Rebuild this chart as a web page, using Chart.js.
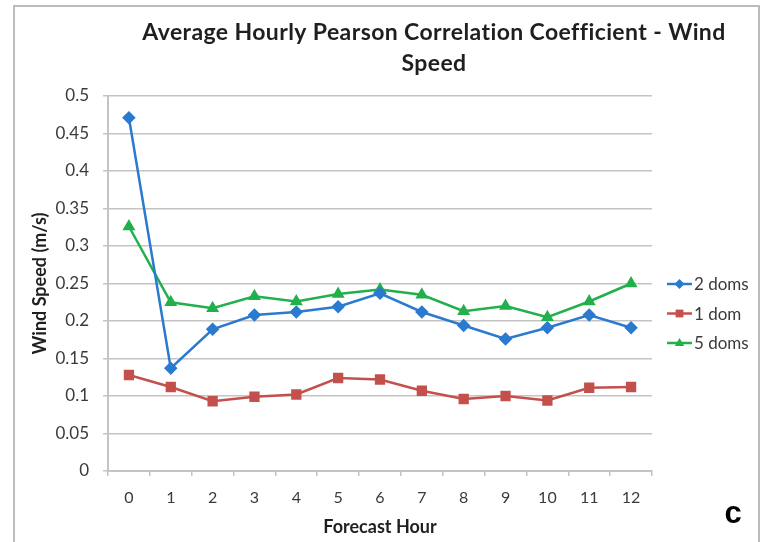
<!DOCTYPE html>
<html>
<head>
<meta charset="utf-8">
<script src="https://cdn.jsdelivr.net/npm/chart.js@4/dist/chart.umd.min.js"></script>
<style>
  html, body { margin: 0; padding: 0; background: #fff; overflow: hidden; }
  #frame { position: absolute; left: 13px; top: 5px; width: 747px; height: 600px;
           border: 2px solid #bcbcbc; box-sizing: border-box; }
  #chart { position: absolute; left: 0; top: 0; }
</style>
</head>
<body>
<div id="frame"></div>
<canvas id="chart" width="767" height="542"></canvas>
<script>
// data
const hours = ['0', '1', '2', '3', '4', '5', '6', '7', '8', '9', '10', '11', '12'];
const twoDoms = [0.471, 0.137, 0.189, 0.208, 0.212, 0.219, 0.237, 0.212, 0.194, 0.176, 0.191, 0.208, 0.191];
const oneDom = [0.128, 0.112, 0.093, 0.099, 0.102, 0.124, 0.122, 0.107, 0.096, 0.100, 0.094, 0.111, 0.112];
const fiveDoms = [0.326, 0.225, 0.217, 0.233, 0.226, 0.236, 0.242, 0.235, 0.213, 0.220, 0.205, 0.226, 0.250];
const titleLines = ['Average Hourly Pearson Correlation Coefficient - Wind', 'Speed'];

const gridColor = '#c4c4c4';
const textColor = '#3a3a3a';

function marker(ctx, style, r, x, y) {
    ctx.beginPath();
    if (style === 'rectRot') {
        ctx.moveTo(x, y - r); ctx.lineTo(x + r, y); ctx.lineTo(x, y + r); ctx.lineTo(x - r, y);
    } else if (style === 'rect') {
        const h = r / Math.SQRT2;
        ctx.rect(x - h, y - h, 2 * h, 2 * h);
    } else {
        ctx.moveTo(x, y - r); ctx.lineTo(x + r * 0.95, y + r * 0.6); ctx.lineTo(x - r * 0.95, y + r * 0.6);
    }
    ctx.closePath();
    ctx.fill();
}

// title, side legend and the panel letter
const decorations = {
    id: 'decorations',
    afterDraw(chart) {
        const ctx = chart.ctx;
        ctx.save();
        ctx.fillStyle = '#1f1f1f';
        ctx.font = 'bold 23px Lato';
        ctx.letterSpacing = '0.4px';
        ctx.textAlign = 'center';
        ctx.textBaseline = 'middle';
        ctx.fillText(titleLines[0], 434, 33);
        ctx.fillText(titleLines[1], 434, 64);
        ctx.letterSpacing = '0px';

        chart.data.datasets.forEach((ds, i) => {
            const y = 284 + i * 29.5;
            ctx.strokeStyle = ds.borderColor;
            ctx.fillStyle = ds.borderColor;
            ctx.lineWidth = 2.5;
            ctx.beginPath();
            ctx.moveTo(667, y);
            ctx.lineTo(692, y);
            ctx.stroke();
            marker(ctx, ds.pointStyle, ds.pointRadius, 679.5, y);
            ctx.fillStyle = textColor;
            ctx.font = '17px Lato';
            ctx.textAlign = 'left';
            ctx.fillText(ds.label, 694, y + 1);
        });

        ctx.fillStyle = '#000';
        ctx.font = 'bold 31px "Liberation Sans"';
        ctx.textAlign = 'center';
        ctx.textBaseline = 'alphabetic';
        ctx.fillText('c', 733, 523);
        ctx.restore();
    }
};

new Chart(document.getElementById('chart').getContext('2d'), {
    type: 'line',
    data: {
        labels: hours,
        datasets: [
            { label: '2 doms', data: twoDoms, borderColor: '#2a7ad0', backgroundColor: '#2a7ad0',
              pointStyle: 'rectRot', pointRadius: 5, borderWidth: 2.5 },
            { label: '1 dom', data: oneDom, borderColor: '#c4504d', backgroundColor: '#c4504d',
              pointStyle: 'rect', pointRadius: 5.5, borderWidth: 2.5 },
            { label: '5 doms', data: fiveDoms, borderColor: '#21b04b', backgroundColor: '#21b04b',
              pointStyle: 'triangle', pointRadius: 5, borderWidth: 2.5 }
        ]
    },
    options: {
        responsive: false,
        animation: false,
        layout: { padding: { top: 96, right: 115, left: 0, bottom: 0 } },
        elements: { line: { tension: 0 }, point: { borderWidth: 1 } },
        plugins: {
            legend: { display: false },
            tooltip: { enabled: false }
        },
        scales: {
            x: {
                offset: true,
                grid: { offset: true, drawOnChartArea: false, drawTicks: true, tickLength: 5,
                        color: gridColor, lineWidth: 1.5 },
                border: { color: gridColor, width: 2 },
                ticks: { color: textColor, font: { family: 'Lato', size: 16 }, padding: 12 },
                title: { display: true, text: 'Forecast Hour', color: '#1f1f1f',
                         font: { family: 'Lato', size: 18, weight: 'bold' }, padding: { top: 4, bottom: 4 } },
                afterFit: s => { s.height = 71; }
            },
            y: {
                min: 0,
                max: 0.5,
                ticks: { stepSize: 0.05, color: textColor, font: { family: 'Lato', size: 17 }, padding: 14,
                         callback: v => String(+v.toFixed(2)) },
                grid: { color: gridColor, lineWidth: 1.5, tickLength: 5 },
                border: { color: gridColor, width: 2 },
                title: { display: true, text: 'Wind Speed (m/s)', color: '#1f1f1f',
                         font: { family: 'Lato', size: 18, weight: 'bold' }, padding: { top: 29, bottom: 0 } },
                afterFit: s => { s.width = 108; }
            }
        }
    },
    plugins: [decorations]
});
</script>
</body>
</html>
